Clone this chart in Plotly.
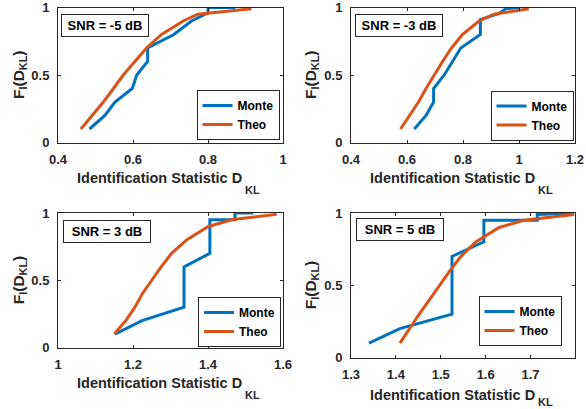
import plotly.graph_objects as go

# ---------------- data ----------------
snr_labels = ["SNR = -5 dB", "SNR = -3 dB", "SNR = 3 dB", "SNR = 5 dB"]

monte1_x = [0.484, 0.525, 0.552, 0.598, 0.610, 0.639, 0.639, 0.709, 0.756, 0.800, 0.800, 0.873]
monte1_y = [0.1, 0.2, 0.3, 0.4, 0.5, 0.6, 0.7, 0.8, 0.9, 0.96, 1.0, 1.0]
theo1_x = [0.461, 0.492, 0.521, 0.548, 0.574, 0.605, 0.636, 0.676, 0.734, 0.773, 0.916]
theo1_y = [0.1, 0.2, 0.3, 0.4, 0.5, 0.6, 0.7, 0.8, 0.9, 0.95, 0.99]

monte2_x = [0.626, 0.668, 0.695, 0.695, 0.733, 0.762, 0.792, 0.862, 0.862, 0.929, 0.952, 1.000]
monte2_y = [0.1, 0.2, 0.3, 0.4, 0.5, 0.6, 0.7, 0.8, 0.91, 0.956, 0.99, 1.0]
theo2_x = [0.577, 0.609, 0.641, 0.668, 0.697, 0.727, 0.759, 0.798, 0.857, 0.911, 1.035]
theo2_y = [0.1, 0.2, 0.3, 0.4, 0.5, 0.6, 0.7, 0.8, 0.9, 0.95, 0.99]

monte3_x = [1.152, 1.224, 1.336, 1.336, 1.405, 1.405, 1.472, 1.472, 1.521]
monte3_y = [0.1, 0.2, 0.3, 0.6, 0.7, 0.95, 0.95, 1.0, 1.0]
theo3_x = [1.150, 1.181, 1.205, 1.225, 1.250, 1.275, 1.303, 1.343, 1.401, 1.463, 1.583]
theo3_y = [0.1, 0.2, 0.3, 0.4, 0.5, 0.6, 0.7, 0.8, 0.9, 0.95, 0.99]

monte4_x = [1.340, 1.409, 1.525, 1.525, 1.596, 1.596, 1.715, 1.715, 1.797]
monte4_y = [0.1, 0.2, 0.3, 0.7, 0.8, 0.95, 0.95, 0.99, 1.0]
theo4_x = [1.409, 1.430, 1.452, 1.475, 1.497, 1.520, 1.545, 1.578, 1.630, 1.685, 1.797]
theo4_y = [0.1, 0.2, 0.3, 0.4, 0.5, 0.6, 0.7, 0.8, 0.9, 0.95, 0.99]

x_ranges = [[0.4, 1.0], [0.4, 1.2], [1.0, 1.6], [1.3, 1.799]]
x_ticks = [[0.4, 0.6, 0.8, 1.0], [0.4, 0.6, 0.8, 1.0, 1.2], [1.0, 1.2, 1.4, 1.6], [1.3, 1.4, 1.5, 1.6, 1.7]]
x_ticktext = [["0.4", "0.6", "0.8", "1"], ["0.4", "0.6", "0.8", "1", "1.2"],
              ["1", "1.2", "1.4", "1.6"], ["1.3", "1.4", "1.5", "1.6", "1.7"]]
y_ticks = [0, 0.5, 1]
y_ticktext = ["0", "0.5", "1"]

monte = [(monte1_x, monte1_y), (monte2_x, monte2_y), (monte3_x, monte3_y), (monte4_x, monte4_y)]
theo = [(theo1_x, theo1_y), (theo2_x, theo2_y), (theo3_x, theo3_y), (theo4_x, theo4_y)]

# ---------------- layout geometry ----------------
W, H = 586, 409
# pixel boxes (left, right, top, bottom)
boxes = [(58, 283, 7.5, 142.5), (351, 575, 7.5, 142.5), (58, 283, 213, 347.5), (351, 575, 213, 357.5)]
legend_ctr = [(238, 115), (532, 115.5), (239.5, 322), (520, 321)]
snr_pos = [(61, 14), (355, 14), (63, 220), (356, 218)]
xtitle_mid = [177.5, 177.5, 383, 394.5]
sub_mid = [189.5, 189.5, 395, 402]
ytitle_x = [19, 311, 19, 311]

BLUE = "#0072BD"
ORANGE = "#D95319"
AX = "#262626"
FONT = "Liberation Sans, Arial, Helvetica, sans-serif"

fig = go.Figure()
layout = dict(width=W, height=H, margin=dict(l=0, r=0, t=0, b=0, autoexpand=False),
              paper_bgcolor="white", plot_bgcolor="white", showlegend=True,
              font=dict(family=FONT, color=AX))
annotations = []

for i in range(4):
    n = "" if i == 0 else str(i + 1)
    L, R, T, B = boxes[i]
    lg = "legend" + n
    fig.add_trace(go.Scatter(x=monte[i][0], y=monte[i][1], mode="lines", name="Monte",
                             line=dict(color=BLUE, width=3), xaxis="x" + n, yaxis="y" + n,
                             legend=lg))
    fig.add_trace(go.Scatter(x=theo[i][0], y=theo[i][1], mode="lines", name="Theo",
                             line=dict(color=ORANGE, width=3), xaxis="x" + n, yaxis="y" + n,
                             legend=lg))
    common = dict(showline=True, linecolor=AX, linewidth=1, mirror="ticks", ticks="inside",
                  ticklen=3, tickcolor=AX, showgrid=False, zeroline=False,
                  ticklabeloverflow="allow", automargin=False,
                  tickfont=dict(family=FONT, size=13, color=AX, weight="bold"))
    layout["xaxis" + n] = dict(domain=[L / W, R / W], range=x_ranges[i], tickvals=x_ticks[i],
                               ticktext=x_ticktext[i], anchor="y" + n, ticklabelstandoff=5, **common)
    layout["yaxis" + n] = dict(domain=[1 - B / H, 1 - T / H], range=[0, 1], tickvals=y_ticks,
                               ticktext=y_ticktext, anchor="x" + n, ticklabelstandoff=5, **common)
    lx, ly = legend_ctr[i]
    layout[lg] = dict(x=lx / W, y=1 - ly / H, xanchor="center", yanchor="middle",
                      xref="paper", yref="paper", bordercolor=AX, borderwidth=1,
                      bgcolor="white", tracegroupgap=0, itemwidth=30,
                      font=dict(family=FONT, size=12, color="black", weight="bold"))
    sx, sy = snr_pos[i]
    annotations.append(dict(text=snr_labels[i], x=sx / W, y=1 - sy / H, xref="paper", yref="paper",
                            xanchor="left", yanchor="top", showarrow=False,
                            bordercolor=AX, borderwidth=1, borderpad=1, bgcolor="white",
                            width=84, height=19,
                            font=dict(family=FONT, size=13, color="black", weight="bold")))
    cx = (L + R) / 2
    annotations.append(dict(text="Identification Statistic D",
                            x=(cx - 11) / W, y=1 - xtitle_mid[i] / H, xref="paper", yref="paper",
                            xanchor="center", yanchor="middle", showarrow=False,
                            font=dict(family=FONT, size=14.5, color=AX, weight="bold")))
    annotations.append(dict(text="KL",
                            x=(cx + 82) / W, y=1 - sub_mid[i] / H, xref="paper", yref="paper",
                            xanchor="center", yanchor="middle", showarrow=False,
                            font=dict(family=FONT, size=11, color=AX, weight="bold")))
    annotations.append(dict(text="F<sub>I</sub>(D<sub>KL</sub>)", textangle=-90,
                            x=ytitle_x[i] / W, y=1 - (T + B) / 2 / H, xref="paper", yref="paper",
                            xanchor="center", yanchor="middle", showarrow=False,
                            font=dict(family=FONT, size=15.5, color=AX, weight="bold")))

layout["annotations"] = annotations
fig.update_layout(**layout)
fig.write_html("out.html", config={"displayModeBar": False},
               post_script="document.body.style.margin='0';document.body.style.padding='0';")
